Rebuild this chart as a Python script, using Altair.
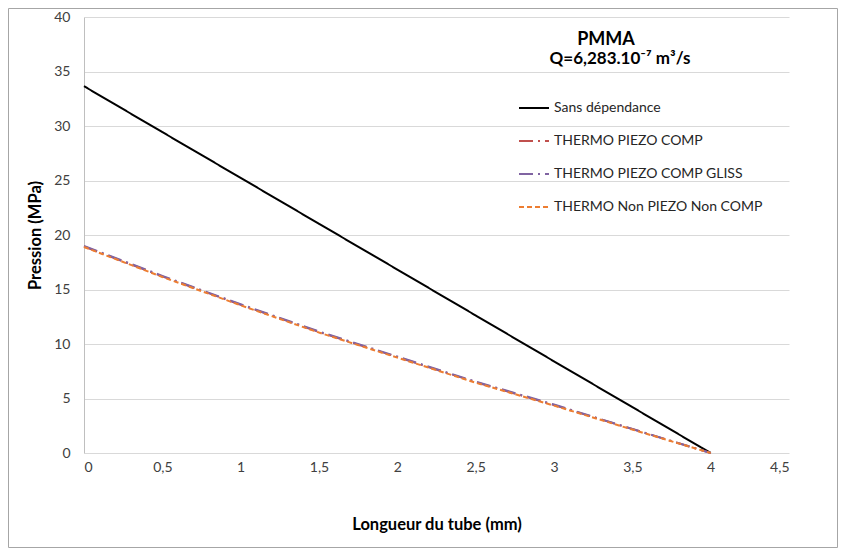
import altair as alt
import pandas as pd

x_vals = [0, 0.5, 1, 1.5, 2, 2.5, 3, 3.5, 4]
sans_dep = [33.65, 29.44, 25.24, 21.03, 16.83, 12.62, 8.41, 4.21, 0.0]
piezo_comp = [18.95, 16.2, 13.6, 11.1, 8.8, 6.5, 4.4, 2.2, 0.0]
piezo_comp_gliss = [19.0, 16.25, 13.65, 11.15, 8.85, 6.55, 4.45, 2.2, 0.0]
non_piezo = [18.9, 16.15, 13.55, 11.05, 8.75, 6.45, 4.35, 2.15, 0.0]

series_names = ["Sans dépendance", "THERMO PIEZO COMP", "THERMO PIEZO COMP GLISS", "THERMO Non PIEZO Non COMP"]
series_colors = ["#000000", "#C0504D", "#8064A2", "#ED7D31"]
series_dash = [[1, 0], [14, 5, 2, 5], [14, 5, 2, 5], [5, 3]]
series_values = [sans_dep, piezo_comp, piezo_comp_gliss, non_piezo]

title_lines = ["PMMA", "Q=6,283.10⁻⁷ m³/s"]

rows = []
for k, (name, vals) in enumerate(zip(series_names, series_values)):
    for x, y in zip(x_vals, vals):
        rows.append({"x": x, "y": y, "serie": name, "order": k})
df = pd.DataFrame(rows)

W, H = 705, 436
PL, PT, PR, PB = 76, 9, 50, 96
FONT = "Lato"

lines = alt.Chart(df).mark_line(strokeWidth=2).encode(
    x=alt.X("x:Q", scale=alt.Scale(domain=[0, 4.5]),
            axis=alt.Axis(values=[0, 0.5, 1, 1.5, 2, 2.5, 3, 3.5, 4, 4.5],
                          labelExpr="replace(format(datum.value, ''), '.', ',')",
                          grid=False, ticks=False, domain=False, labelPadding=7,
                          title="Longueur du tube (mm)", titleX=W / 2, titleY=71,
                          titleBaseline="middle")),
    y=alt.Y("y:Q", scale=alt.Scale(domain=[0, 40]),
            axis=alt.Axis(values=list(range(0, 41, 5)), grid=True, ticks=False,
                          domain=True, labelPadding=14,
                          title="Pression (MPa)", titleX=-49, titleY=H / 2,
                          titleAngle=-90, titleBaseline="middle")),
    color=alt.Color("serie:N", scale=alt.Scale(domain=series_names, range=series_colors),
                    legend=alt.Legend(title=None, orient="none", legendX=434, legendY=75,
                                      symbolType="stroke", symbolSize=900, symbolStrokeWidth=2,
                                      rowPadding=10, labelFontSize=14, labelFont=FONT,
                                      labelColor="#262626", labelOffset=4, labelLimit=400)),
    strokeDash=alt.StrokeDash("serie:N", scale=alt.Scale(domain=series_names, range=series_dash),
                              legend=None),
    order=alt.Order("order:Q"),
    detail="serie:N",
)

def title_text(txt, xpos, ypos, size):
    return alt.Chart(pd.DataFrame({"t": [txt]})).mark_text(
        fontSize=size, fontWeight="bold", font=FONT, color="#000000", baseline="middle"
    ).encode(text="t:N", x=alt.value(xpos), y=alt.value(ypos))

t1 = title_text(title_lines[0], 522, 23, 18)
t2 = title_text(title_lines[1], 536, 42, 17)

border = alt.Chart(pd.DataFrame({"a": [0]})).mark_rect(
    fill=None, stroke="#a6a6a6", strokeWidth=1).encode(
    x=alt.value(-PL + 0.5), x2=alt.value(W + PR - 1.5),
    y=alt.value(-PT + 0.5), y2=alt.value(H + PB - 1.5),
)

chart = alt.layer(border, lines, t1, t2).properties(
    width=W, height=H,
    background="white",
    autosize=alt.AutoSizeParams(type="none"),
    padding={"left": PL, "top": PT, "right": PR, "bottom": PB},
).configure_view(stroke=None).configure_axis(
    labelFont=FONT, labelFontSize=14, labelColor="#404040",
    titleFont=FONT, titleFontSize=16.5, titleFontWeight="bold", titleColor="#000000",
    gridColor="#d9d9d9", domainColor="#bfbfbf",
)

chart.save("out.html", embed_options={"renderer": "svg", "actions": False})
